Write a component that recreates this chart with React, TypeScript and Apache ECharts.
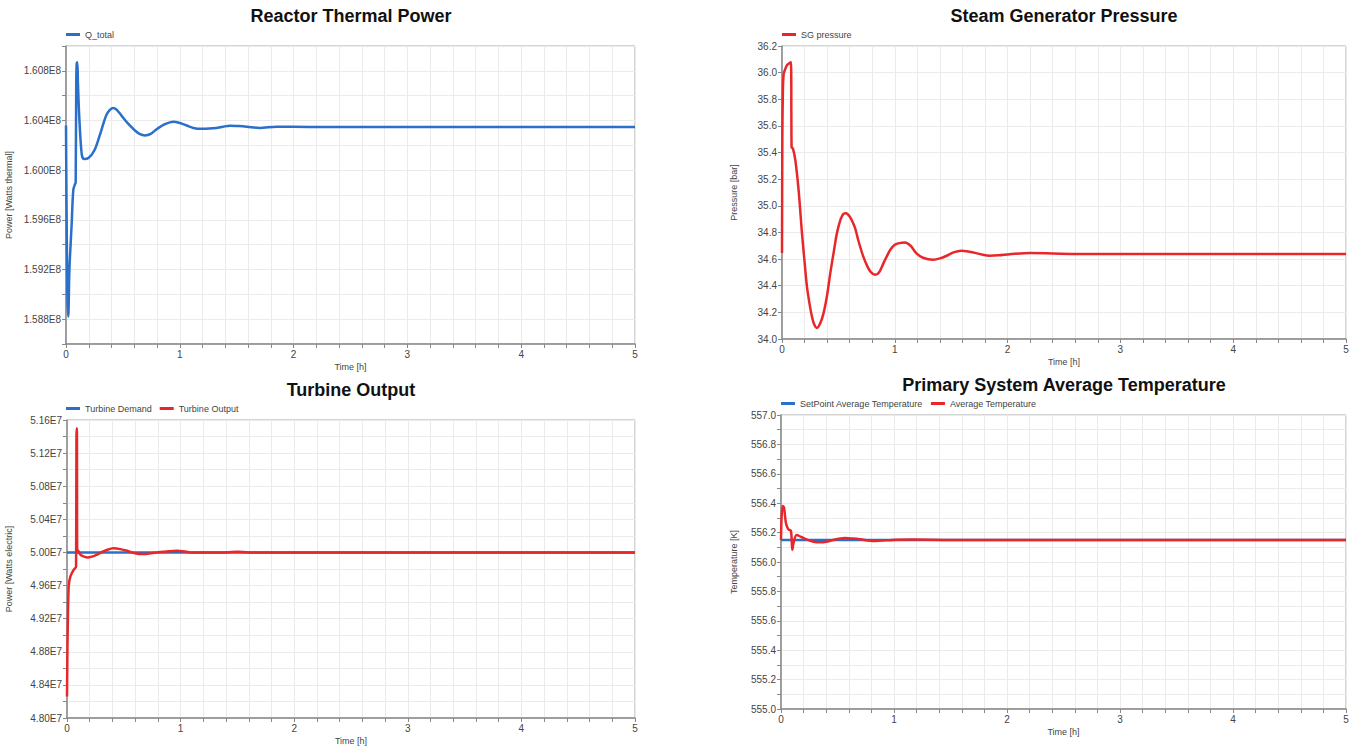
import React, { useEffect, useRef } from "react";
import * as echarts from "echarts";

// ---- Reactor thermal power (Q_total) ----
const qTime = [0, 0.004, 0.012, 0.02, 0.03, 0.05, 0.064, 0.08, 0.085, 0.09, 0.094, 0.1, 0.105, 0.117, 0.138, 0.158, 0.2, 0.25, 0.3, 0.33, 0.358, 0.39, 0.416, 0.44, 0.47, 0.504, 0.55, 0.606, 0.65, 0.694, 0.74, 0.797, 0.87, 0.943, 1.0, 1.06, 1.12, 1.19, 1.26, 1.32, 1.38, 1.44, 1.52, 1.59, 1.7, 1.85, 2.14, 5];
const qValue = [1.6036e8, 1.598e8, 1.590e8, 1.5882e8, 1.592e8, 1.5957e8, 1.5984e8, 1.5989e8, 1.599e8, 1.607e8, 1.6086e8, 1.6087e8, 1.607e8, 1.6042e8, 1.6013e8, 1.6009e8, 1.601e8, 1.6016e8, 1.6029e8, 1.6038e8, 1.6045e8, 1.6049e8, 1.605e8, 1.6049e8, 1.6046e8, 1.6042e8, 1.6037e8, 1.6032e8, 1.6029e8, 1.6028e8, 1.6029e8, 1.6033e8, 1.6037e8, 1.6039e8, 1.6038e8, 1.6036e8, 1.6034e8, 1.60333e8, 1.60335e8, 1.6034e8, 1.6035e8, 1.60358e8, 1.60355e8, 1.6035e8, 1.6034e8, 1.6035e8, 1.60348e8, 1.60348e8];

// ---- Steam generator pressure ----
const pTime = [0, 0.003, 0.008, 0.015, 0.03, 0.044, 0.065, 0.08, 0.083, 0.085, 0.097, 0.118, 0.147, 0.177, 0.2, 0.221, 0.245, 0.265, 0.285, 0.31, 0.34, 0.369, 0.4, 0.428, 0.46, 0.487, 0.52, 0.545, 0.569, 0.6, 0.625, 0.649, 0.68, 0.72, 0.76, 0.79, 0.826, 0.86, 0.9, 0.929, 0.96, 1.0, 1.04, 1.09, 1.14, 1.19, 1.25, 1.34, 1.4, 1.46, 1.52, 1.59, 1.66, 1.72, 1.78, 1.84, 1.92, 2.02, 2.2, 2.6, 5];
const pValue = [34.645, 35.5, 35.87, 35.99, 36.03, 36.055, 36.07, 36.08, 35.7, 35.44, 35.43, 35.344, 35.12, 34.795, 34.58, 34.395, 34.26, 34.17, 34.11, 34.083, 34.12, 34.196, 34.33, 34.495, 34.66, 34.795, 34.9, 34.94, 34.945, 34.92, 34.88, 34.83, 34.73, 34.62, 34.54, 34.5, 34.482, 34.5, 34.57, 34.62, 34.67, 34.707, 34.72, 34.724, 34.7, 34.645, 34.61, 34.595, 34.605, 34.625, 34.65, 34.662, 34.655, 34.645, 34.632, 34.625, 34.628, 34.637, 34.645, 34.638, 34.638];

// ---- Turbine output ----
const demandTime = [0, 5];
const demandValue = [5.0e7, 5.0e7];
const turbTime = [0, 0.003, 0.006, 0.015, 0.03, 0.059, 0.08, 0.083, 0.087, 0.09, 0.094, 0.12, 0.15, 0.18, 0.22, 0.26, 0.3, 0.35, 0.41, 0.47, 0.53, 0.6, 0.67, 0.74, 0.82, 0.9, 0.97, 1.04, 1.11, 1.4, 1.5, 1.6, 5];
const turbValue = [4.826e7, 4.87e7, 4.903e7, 4.959e7, 4.971e7, 4.979e7, 4.983e7, 5.14e7, 5.15e7, 5.0e7, 5.003e7, 4.997e7, 4.995e7, 4.994e7, 4.995e7, 4.997e7, 5.0e7, 5.003e7, 5.005e7, 5.004e7, 5.002e7, 4.999e7, 4.998e7, 4.999e7, 5.0005e7, 5.0015e7, 5.002e7, 5.001e7, 5.0e7, 5.0e7, 5.0008e7, 5.0e7, 5.0e7];

// ---- Primary average temperature ----
const setTime = [0, 5];
const setValue = [556.15, 556.15];
const tempTime = [0, 0.005, 0.015, 0.027, 0.044, 0.065, 0.088, 0.1, 0.11, 0.138, 0.18, 0.227, 0.28, 0.345, 0.4, 0.46, 0.51, 0.566, 0.63, 0.7, 0.82, 1.02, 1.17, 1.5, 5];
const tempValue = [556.15, 556.3, 556.381, 556.37, 556.263, 556.222, 556.213, 556.082, 556.127, 556.184, 556.17, 556.154, 556.14, 556.134, 556.138, 556.15, 556.158, 556.163, 556.16, 556.155, 556.143, 556.152, 556.153, 556.15, 556.15];

const titles = ["Reactor Thermal Power", "Steam Generator Pressure", "Turbine Output", "Primary System Average Temperature"];
const yNames = ["Power [Watts thermal]", "Pressure [bar]", "Power [Watts electric]", "Temperature [K]"];

const BLUE = "#2a6fca";
const RED = "#e8272b";
const FONT = "'Liberation Sans', Arial, sans-serif";

const pairs = (t: number[], v: number[]) => t.map((x, i) => [x, v[i]]);

export default function App() {
  const ref = useRef<HTMLDivElement>(null);
  useEffect(() => {
    if (!ref.current) return;
    const chart = echarts.init(ref.current, undefined, { renderer: "svg" });

    const grids = [
      { left: 66, top: 46, width: 569, height: 298 },
      { left: 782, top: 46, width: 564, height: 293 },
      { left: 67, top: 420, width: 568, height: 298 },
      { left: 781, top: 415, width: 565, height: 294 },
    ].map((g) => ({ ...g, show: true, borderColor: "#aaa", borderWidth: 1, containLabel: false }));

    const axisLine = { show: true, lineStyle: { color: "#888", width: 1.5 } };
    const splitLine = { show: true, lineStyle: { color: "#ebebeb", width: 1 } };
    const axisTick = { show: true, length: 4, lineStyle: { color: "#888" } };

    const xAxes = grids.map((_, i) => ({
      type: "value",
      gridIndex: i,
      min: 0,
      max: 5,
      interval: 0.2,
      axisLine,
      axisTick,
      splitLine,
      name: "Time [h]",
      nameLocation: "middle",
      nameGap: 18,
      nameTextStyle: { fontSize: 9, color: "#444", fontFamily: FONT },
      axisLabel: {
        margin: 5,
        fontSize: 10,
        color: "#444",
        fontFamily: FONT,
        formatter: (v: number) => (Math.abs(v - Math.round(v)) < 1e-6 ? String(Math.round(v)) : ""),
      },
    }));

    const yDefs = [
      { min: 1.586e8, max: 1.61e8, interval: 2e5, fmt: (v: number) => (Math.round(v / 2e5) % 2 === 0 ? (v / 1e8).toFixed(3) + "E8" : ""), gap: 53 },
      { min: 34.0, max: 36.2, interval: 0.2, fmt: (v: number) => v.toFixed(1), gap: 44 },
      { min: 4.8e7, max: 5.16e7, interval: 2e5, fmt: (v: number) => (Math.round(v / 2e5) % 2 === 0 ? (v / 1e7).toFixed(2) + "E7" : ""), gap: 54 },
      { min: 555.0, max: 557.0, interval: 0.1, fmt: (v: number) => (Math.round(v * 10) % 2 === 0 ? v.toFixed(1) : ""), gap: 43 },
    ];

    const yAxes = yDefs.map((d, i) => ({
      type: "value",
      gridIndex: i,
      min: d.min,
      max: d.max,
      interval: d.interval,
      axisLine,
      axisTick,
      splitLine,
      name: yNames[i],
      nameLocation: "middle",
      nameGap: d.gap,
      nameTextStyle: { fontSize: 9, color: "#444", fontFamily: FONT },
      axisLabel: { margin: 5, fontSize: 10, color: "#444", fontFamily: FONT, formatter: d.fmt },
    }));

    const line = (name: string, data: number[][], color: string, idx: number, z = 2) => ({
      type: "line",
      name,
      data,
      xAxisIndex: idx,
      yAxisIndex: idx,
      symbol: "none",
      showSymbol: false,
      smooth: 0.3,
      lineStyle: { color, width: 2.5, join: "round" },
      itemStyle: { color },
      z,
    });

    const series = [
      line("Q_total", pairs(qTime, qValue), BLUE, 0),
      line("SG pressure", pairs(pTime, pValue), RED, 1),
      line("Turbine Demand", pairs(demandTime, demandValue), BLUE, 2),
      line("Turbine Output", pairs(turbTime, turbValue), RED, 2, 3),
      line("SetPoint Average Temperature", pairs(setTime, setValue), BLUE, 3),
      line("Average Temperature", pairs(tempTime, tempValue), RED, 3, 3),
    ];

    const legendBase = {
      orient: "horizontal",
      padding: 0,
      icon: "rect",
      itemWidth: 14,
      itemHeight: 3,
      itemGap: 8,
      textStyle: { fontSize: 9, color: "#444", fontFamily: FONT },
    };
    const legend = [
      { ...legendBase, left: 66, top: 30, data: ["Q_total"] },
      { ...legendBase, left: 782, top: 30, data: ["SG pressure"] },
      { ...legendBase, left: 66, top: 404, data: ["Turbine Demand", "Turbine Output"] },
      { ...legendBase, left: 781, top: 399, data: ["SetPoint Average Temperature", "Average Temperature"] },
    ];

    const titlePos = [
      [351, 16],
      [1064, 16],
      [351, 390],
      [1064, 385],
    ];
    const graphic = titles.map((t, i) => ({
      type: "text",
      x: titlePos[i][0],
      y: titlePos[i][1],
      style: {
        text: t,
        fontSize: 18,
        fontWeight: "bold",
        fontFamily: FONT,
        fill: "#111",
        textAlign: "center",
        textVerticalAlign: "middle",
      },
    }));

    chart.setOption({
      animation: false,
      backgroundColor: "#fff",
      grid: grids,
      xAxis: xAxes,
      yAxis: yAxes,
      legend,
      series,
      graphic,
    });
    return () => chart.dispose();
  }, []);

  return (
    <div
      ref={ref}
      style={{ position: "fixed", left: 0, top: 0, width: 1353, height: 747, background: "#fff" }}
    />
  );
}
